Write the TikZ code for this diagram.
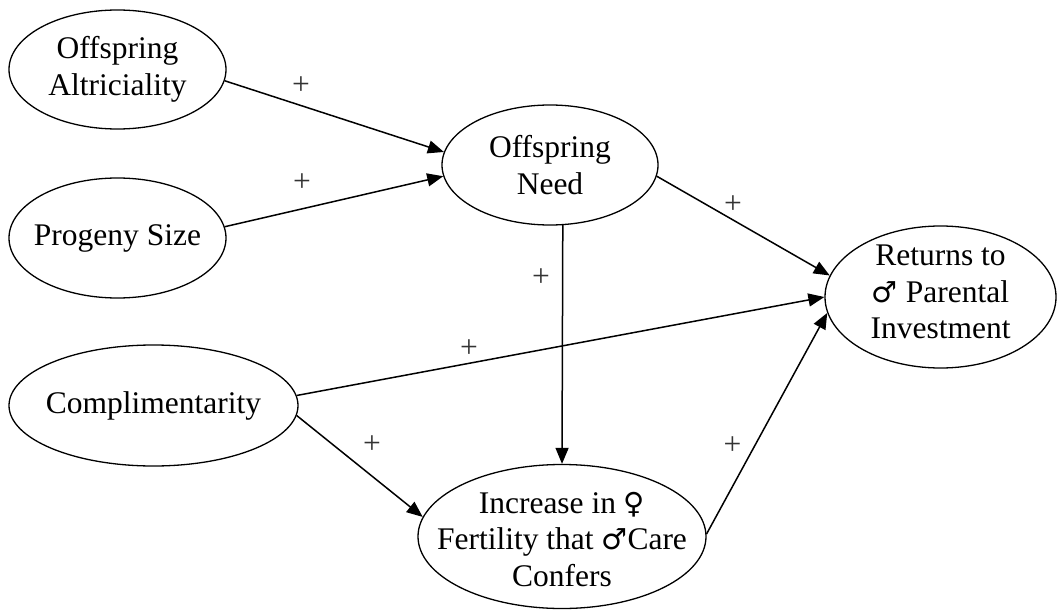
\documentclass[tikz,border=0pt]{standalone}
\usepackage{fontspec}
\setmainfont{Liberation Serif}
\newfontfamily\symfont{DejaVu Sans}
\newcommand{\malesym}{{\symfont\fontsize{29}{36.5}\selectfont ♂}}
\newcommand{\femsym}{{\symfont\fontsize{29}{36.5}\selectfont ♀}}
\usetikzlibrary{shapes.geometric,arrows.meta}
\begin{document}
\begin{tikzpicture}[x=1pt,y=-1pt,
  oval/.style={draw, ellipse, line width=1.3pt, inner sep=0pt},
  lbl/.style={align=center, inner sep=0pt, font=\fontsize{31.5}{36.5}\selectfont},
  plus/.style={inner sep=0pt, text=black!80, font=\fontsize{31.5}{36.5}\selectfont},
  edge/.style={line width=1.5pt, -{Triangle[length=16pt,width=13pt]}}]
\useasboundingbox (0,0) rectangle (1058,610);
% ellipses
\node[oval, minimum width=217pt, minimum height=119pt] (oa) at (117.5,69.5) {};
\node[oval, minimum width=217pt, minimum height=120pt] (ps) at (117.5,238) {};
\node[oval, minimum width=216pt, minimum height=120pt] (on) at (550,165) {};
\node[oval, minimum width=231pt, minimum height=142pt] (ret) at (940.5,297) {};
\node[oval, minimum width=289pt, minimum height=121pt] (comp) at (153.5,405.5) {};
\node[oval, minimum width=288pt, minimum height=144pt] (inc) at (562,536.5) {};
% texts
\node[lbl] (oa-t) at (oa) {Offspring\\Altriciality};
\node[lbl] (ps-t) at (ps) {Progeny Size};
\node[lbl] (on-t) at (on) {Offspring\\Need};
\node[lbl] (ret-t) at ([yshift=5pt]ret) {Returns to\\\malesym{} Parental\\Investment};
\node[lbl] (comp-t) at (comp) {Complimentarity};
\node[lbl] (inc-t) at ([yshift=-3pt]inc) {Increase in \femsym\\Fertility that \malesym Care\\Confers};
% connectors
\draw[edge] (oa.-6.6) -- (on.173.7);
\draw[edge] (ps.6.3) -- (on.186.2);
\draw[edge] (on.-6.9) -- (ret.169.2);
\draw[edge] (on.-78.7) -- (inc.north);
\draw[edge] (comp.4.55) -- (ret.180);
\draw[edge] (comp.-4.6) -- (inc.172);
\draw[edge] (inc.1) -- (ret.188.7);
% labels
\node[plus] (p1) at (301,86) {+};
\node[plus] (p2) at (302,182.5) {+};
\node[plus] (p3) at (733,205) {+};
\node[plus] (p4) at (541,278) {+};
\node[plus] (p5) at (469,349) {+};
\node[plus] (p6) at (372,445) {+};
\node[plus] (p7) at (732.5,445.5) {+};
\end{tikzpicture}
\end{document}
